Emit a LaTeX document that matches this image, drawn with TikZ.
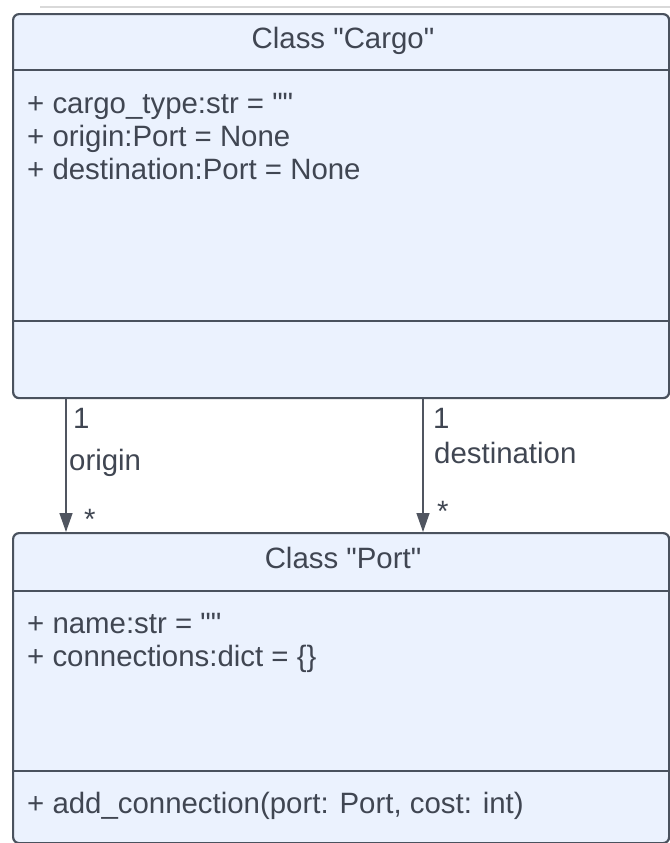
\documentclass[tikz,border=0pt]{standalone}
\usepackage{fontspec}
% a family without the TeX ligature mapping keeps the straight quotes
\newfontfamily\umlfont{Liberation Sans}
\usetikzlibrary{arrows.meta}
\definecolor{boxfill}{HTML}{EBF2FE}
\definecolor{boxline}{HTML}{4A525E}
\definecolor{txt}{HTML}{404652}
\definecolor{wire}{HTML}{505560}
\begin{document}
\begin{tikzpicture}[x=1bp, y=-1bp,
  classbox/.style={draw=boxline, fill=boxfill, line width=2.2bp, rounded corners=6bp,
    inner sep=0pt, anchor=north west, minimum width=656bp},
  divider/.style={draw=boxline, line width=2.2bp},
  uml/.style={inner sep=0pt, text=txt, font=\umlfont\fontsize{29.4bp}{33bp}\selectfont},
  member/.style={uml, anchor=base west},
  title/.style={uml, anchor=base},
  assoc/.style={draw=wire, line width=1.4bp, -{Triangle[length=19bp, width=13bp]}}
]
\useasboundingbox (0,0) rectangle (670,843);
\clip (0,0) rectangle (670,843);

% faint edge along the top
\draw[black!15, line width=2bp] (40,7) -- (670,7);

% class Cargo
\node[classbox, minimum height=384bp] (cargo) at (12,13) {};
\draw[divider] (12,70) -- (668,70);
\draw[divider] (12,321) -- (668,321);
\node[title] (cargoTitle) at (343,48) {Class "Cargo"};
\node[member] (cargoA1) at (27,113) {+ cargo\_type:str = ""};
\node[member] (cargoA2) at (27,146) {+ origin:Port = None};
\node[member] (cargoA3) at (27,179) {+ destination:Port = None};

% class Port
\node[classbox, minimum height=310bp] (port) at (12,532) {};
\draw[divider] (12,591) -- (668,591);
\draw[divider] (12,771) -- (668,771);
\node[title] (portTitle) at (343,568) {Class "Port"};
\node[member] (portA1) at (27,633) {+ name:str = ""};
\node[member] (portA2) at (27,666) {+ connections:dict = \{\}};
\node[member] (portM1) at (27,813) {+ add\_connection(port: Port, cost: int)};

% associations
\coordinate (originX) at (66,0);
\coordinate (destX) at (423,0);
\draw[assoc] (cargo.south -| originX) -- (port.north -| originX);
\draw[assoc] (cargo.south -| destX) -- (port.north -| destX);

\node[member] (originOne) at (73,428) {1};
\node[member] (originRole) at (69,470) {origin};
\node[member] (originMany) at (84,529) {*};
\node[member] (destOne) at (433,428) {1};
\node[member] (destRole) at (434,463) {destination};
\node[member] (destMany) at (437,521) {*};
\end{tikzpicture}
\end{document}
